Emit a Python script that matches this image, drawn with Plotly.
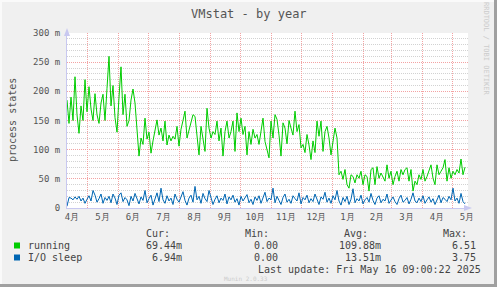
import pandas as pd
import plotly.graph_objects as go

# ---------------- data ----------------
start_date = "2024-04-11"
step = "2D"
running_m = [
    185, 145, 190, 150, 225, 160, 128, 175, 150, 220,
    165, 208, 170, 150, 196, 160, 145, 180, 195, 150,
    205, 260, 175, 210, 155, 130, 190, 242, 160, 195,
    140, 150, 185, 204, 180, 130, 89, 120, 109, 154,
    118, 130, 94, 115, 135, 151, 125, 137, 115, 149,
    108, 125, 115, 123, 118, 140, 106, 135, 150, 166,
    120, 132, 145, 160, 157, 120, 91, 140, 120, 97,
    171, 137, 120, 131, 126, 149, 115, 137, 89, 131,
    149, 120, 131, 149, 97, 163, 131, 154, 126, 140,
    91, 131, 109, 135, 120, 126, 109, 131, 154, 114,
    100, 86, 149, 120, 160, 152, 125, 89, 146, 137,
    110, 150, 137, 125, 166, 131, 143, 103, 109, 95,
    126, 108, 83, 115, 95, 149, 123, 149, 97, 131,
    140, 120, 91, 115, 137, 120, 57, 63, 49, 66,
    40, 34, 57, 54, 43, 57, 51, 63, 40, 57,
    54, 29, 66, 69, 40, 71, 51, 60, 54, 46,
    74, 51, 63, 40, 54, 63, 46, 66, 57, 66,
    69, 46, 66, 29, 46, 40, 57, 49, 66, 46,
    54, 63, 74, 51, 40, 74, 57, 63, 69, 83,
    46, 69, 51, 63, 57, 66, 60, 84, 57, 70,
]
io_sleep_m = [
    3, 18, 17, 14, 19, 15, 20, 12, 17, 8,
    15, 21, 12, 30, 22, 10, 16, 24, 8, 18,
    13, 20, 9, 24, 17, 6, 22, 26, 11, 18,
    14, 4, 20, 12, 25, 15, 7, 19, 13, 30,
    9, 16, 22, 5, 18, 26, 11, 34, 14, 8,
    21, 12, 17, 6, 24, 15, 10, 19, 28, 13,
    5, 17, 22, 10, 37, 14, 20, 8, 25, 16,
    11, 30, 18, 6, 15, 21, 9, 17, 13, 24,
    7, 19, 14, 22, 10, 16, 5, 20, 12, 18,
    23, 9, 15, 6, 19, 13, 21, 8, 16, 27,
    11, 17, 14, 34, 9, 20, 13, 6, 18, 24,
    10, 15, 8, 21, 16, 12, 26, 7, 18, 14,
    22, 9, 16, 11, 24, 13, 6, 19, 15, 27,
    10, 17, 8, 21, 14, 30, 12, 5, 18, 11,
    20, 6, 15, 33, 9, 16, 12, 22, 7, 14,
    18, 10, 25, 13, 6, 17, 21, 9, 15, 12,
    24, 8, 14, 19, 11, 6, 16, 22, 10, 13,
    18, 7, 15, 26, 12, 9, 17, 11, 21, 8,
    14, 19, 10, 16, 6, 13, 22, 9, 18, 15,
    11, 20, 14, 34, 12, 17, 8, 25, 11, 7,
]
series_names = ["running", "I/O sleep"]
series_colors = ["#00CC00", "#0066B3"]
y_tick_vals = [0, 0.05, 0.10, 0.15, 0.20, 0.25, 0.30]
y_tick_text = ["0", "50 m", "100 m", "150 m", "200 m", "250 m", "300 m"]
x_range = ["2024-04-11", "2025-05-17"]
legend_headers = ["Cur:", "Min:", "Avg:", "Max:"]
running_stats = ["69.44m", "0.00", "109.88m", "6.51"]
io_stats = ["6.94m", "0.00", "13.51m", "3.75"]
title_text = "VMstat - by year"
y_title = "process states"
last_update = "Last update: Fri May 16 09:00:22 2025"
munin_version = "Munin 2.0.33"
rrd_credit = "RRDTOOL / TOBI OETIKER"

# ---------------- figure ----------------
W, H = 497, 287
L, R, T, B = 67, 468, 33, 208  # plot area in pixels
MONO = "DejaVu Sans Mono"
MAJOR = "#F3A3A3"
MINOR = "#D2D2D2"


def px(x):
    return (x - L) / (R - L)


def py(y):
    return (B - y) / (B - T)


dates = pd.date_range(start_date, periods=len(running_m), freq=step)

fig = go.Figure()
for name, vals, col in [(series_names[0], running_m, series_colors[0]),
                        (series_names[1], io_sleep_m, series_colors[1])]:
    fig.add_trace(go.Scatter(
        x=dates, y=[v / 1000 for v in vals], mode="lines", name=name,
        line=dict(color=col, width=1), showlegend=False,
    ))

fig.update_layout(
    width=W, height=H,
    margin=dict(l=L, r=W - R, t=T, b=H - B),
    paper_bgcolor="#F0F0F0", plot_bgcolor="#FFFFFF",
    font=dict(family=MONO, size=9, color="#555555"),
)
fig.update_xaxes(
    type="date", range=x_range, dtick="M1", tick0="2024-05-01",
    ticklabelmode="period", tickformat="%-m月",
    showgrid=True, gridcolor=MAJOR, griddash="1px,1px", gridwidth=1,
    showline=True, linecolor="#C8C8F0", linewidth=1,
    ticks="", tickfont=dict(family=MONO, size=9, color="#555555"),
    zeroline=False, fixedrange=True,
)
fig.update_yaxes(
    range=[0, 0.3], tickvals=y_tick_vals, ticktext=y_tick_text,
    showgrid=True, gridcolor=MAJOR, griddash="1px,1px", gridwidth=1,
    minor=dict(dtick=0.01, showgrid=True, gridcolor=MINOR,
               griddash="1px,1px", gridwidth=1, ticks=""),
    showline=True, linecolor="#C8C8F0", linewidth=1,
    ticks="outside", ticklen=4, tickcolor="rgba(0,0,0,0)",
    tickfont=dict(family=MONO, size=9, color="#555555"),
    zeroline=False, fixedrange=True,
)

shapes = []
# axis arrows
shapes.append(dict(type="path", xref="paper", yref="paper",
                   path=f"M {px(464)} {py(205)} L {px(472)} {py(208)} L {px(464)} {py(211)} Z",
                   fillcolor="#C8C8F0", line=dict(width=0)))
shapes.append(dict(type="path", xref="paper", yref="paper",
                   path=f"M {px(64)} {py(36)} L {px(67)} {py(28)} L {px(70)} {py(36)} Z",
                   fillcolor="#C8C8F0", line=dict(width=0)))
# 3D frame around image
shapes.append(dict(type="rect", xref="paper", yref="paper",
                   x0=px(0), x1=px(W), y0=py(H - 3), y1=py(H),
                   fillcolor="#A0A0A0", line=dict(width=0), layer="above"))
shapes.append(dict(type="rect", xref="paper", yref="paper",
                   x0=px(W - 3), x1=px(W), y0=py(H), y1=py(0),
                   fillcolor="#A0A0A0", line=dict(width=0), layer="above"))
shapes.append(dict(type="rect", xref="paper", yref="paper",
                   x0=px(0), x1=px(W - 3), y0=py(2), y1=py(0),
                   fillcolor="#FAFAFA", line=dict(width=0), layer="above"))
shapes.append(dict(type="rect", xref="paper", yref="paper",
                   x0=px(0), x1=px(2), y0=py(H - 3), y1=py(0),
                   fillcolor="#FAFAFA", line=dict(width=0), layer="above"))
# legend colour squares
for col, yc in [(series_colors[0], 245.5), (series_colors[1], 257.5)]:
    shapes.append(dict(type="rect", xref="paper", yref="paper",
                       x0=px(14), x1=px(20), y0=py(yc + 3), y1=py(yc - 3),
                       fillcolor=col, line=dict(color="#333333", width=0)))
fig.update_layout(shapes=shapes)


def ann(text, x, y, xanchor="left", size=10, color="#444444", angle=0, yanchor="middle"):
    return dict(text=text, x=px(x), y=py(y), xref="paper", yref="paper",
                xanchor=xanchor, yanchor=yanchor, showarrow=False, textangle=angle,
                font=dict(family=MONO, size=size, color=color))


anns = [
    ann(title_text, 248.5, 14, xanchor="center", size=12, color="#555555"),
    ann(y_title, 12, 120, xanchor="center", size=10, color="#555555", angle=-90),
    ann(rrd_credit, 486, 49, xanchor="center", size=7, color="#CCCCCC", angle=90),
    ann(munin_version, 246, 278.5, xanchor="center", size=6, color="#CCCCCC"),
]
header_right = [172, 271, 370, 469]
value_right = [184, 280, 383, 478]
for h, xr in zip(legend_headers, header_right):
    anns.append(ann(h, xr, 233, xanchor="right"))
anns.append(ann(series_names[0], 26, 245.5))
anns.append(ann(series_names[1], 26, 257.5))
for v, xr in zip(running_stats, value_right):
    anns.append(ann(v, xr, 245.5, xanchor="right"))
for v, xr in zip(io_stats, value_right):
    anns.append(ann(v, xr, 257.5, xanchor="right"))
anns.append(ann(last_update, 483, 269.5, xanchor="right"))
fig.update_layout(annotations=anns)

fig.write_html("out.html")
